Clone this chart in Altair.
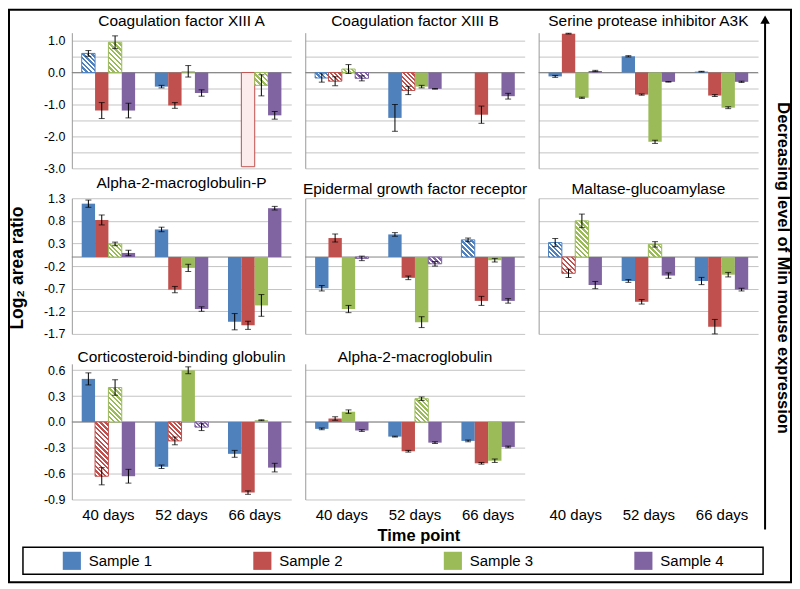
import math
import altair as alt

DAYS = ["40 days", "52 days", "66 days"]
SAMPLES = ["Sample 1", "Sample 2", "Sample 3", "Sample 4"]
COLORS = ["#4F81BD", "#C0504D", "#9BBB59", "#8064A2"]

# values per day: [Sample 1, Sample 2, Sample 3, Sample 4]; pattern s=solid, h=hatched, d=dotted
CF13A_VAL = [[0.60, -1.19, 0.95, -1.19], [-0.44, -1.03, 0.04, -0.64], [None, -2.95, -0.40, -1.34]]
CF13A_ERR = [[0.09, 0.25, 0.20, 0.23], [0.04, 0.09, 0.18, 0.10], [None, None, 0.33, 0.12]]
CF13A_PAT = [["h", "s", "h", "s"], ["s", "s", "s", "s"], ["s", "d", "h", "s"]]

CF13B_VAL = [[-0.17, -0.27, 0.11, -0.18], [-1.42, -0.56, -0.44, -0.51], [None, -1.32, None, -0.74]]
CF13B_ERR = [[0.13, 0.14, 0.14, 0.08], [0.42, 0.13, 0.04, 0.01], [None, 0.27, None, 0.09]]
CF13B_PAT = [["h", "h", "h", "h"], ["s", "h", "s", "s"], ["s", "s", "s", "s"]]

SPI_VAL = [[-0.12, 1.22, -0.79, 0.05], [0.51, -0.69, -2.17, -0.29], [0.03, -0.72, -1.10, -0.29]]
SPI_ERR = [[0.03, 0.01, 0.02, 0.02], [0.02, 0.02, 0.05, 0.01], [0.01, 0.03, 0.03, 0.02]]
SPI_PAT = [["s", "s", "s", "s"], ["s", "s", "s", "s"], ["s", "s", "s", "s"]]

A2MP_VAL = [[1.18, 0.82, 0.29, 0.09], [0.61, -0.72, -0.24, -1.15], [-1.43, -1.51, -1.07, 1.08]]
A2MP_ERR = [[0.08, 0.11, 0.04, 0.06], [0.05, 0.07, 0.08, 0.05], [0.18, 0.09, 0.24, 0.04]]
A2MP_PAT = [["s", "s", "h", "s"], ["s", "s", "s", "s"], ["s", "s", "s", "s"]]

EGFR_VAL = [[-0.69, 0.42, -1.15, -0.03], [0.50, -0.46, -1.44, -0.15], [0.38, -0.97, -0.07, -0.97]]
EGFR_ERR = [[0.06, 0.09, 0.08, 0.05], [0.04, 0.04, 0.12, 0.05], [0.04, 0.10, 0.04, 0.05]]
EGFR_PAT = [["s", "s", "s", "h"], ["s", "s", "s", "h"], ["h", "s", "s", "s"]]

MGAM_VAL = [[0.32, -0.36, 0.80, -0.62], [-0.53, -0.99, 0.28, -0.41], [-0.53, -1.54, -0.39, -0.72]]
MGAM_ERR = [[0.09, 0.09, 0.15, 0.08], [0.03, 0.05, 0.06, 0.06], [0.08, 0.16, 0.05, 0.03]]
MGAM_PAT = [["h", "h", "h", "s"], ["s", "s", "h", "s"], ["s", "s", "s", "s"]]

CBG_VAL = [[0.50, -0.63, 0.40, -0.63], [-0.52, -0.22, 0.60, -0.06], [-0.37, -0.82, 0.02, -0.53]]
CBG_ERR = [[0.07, 0.10, 0.09, 0.08], [0.02, 0.045, 0.04, 0.04], [0.04, 0.02, 0.005, 0.05]]
CBG_PAT = [["s", "h", "h", "s"], ["s", "h", "s", "h"], ["s", "s", "s", "s"]]

A2M_VAL = [[-0.08, 0.04, 0.12, -0.10], [-0.17, -0.34, 0.27, -0.24], [-0.22, -0.48, -0.45, -0.29]]
A2M_ERR = [[0.01, 0.02, 0.02, 0.01], [0.005, 0.01, 0.02, 0.01], [0.01, 0.01, 0.02, 0.01]]
A2M_PAT = [["s", "s", "s", "s"], ["s", "s", "h", "s"], ["s", "s", "s", "s"]]

ROW1_TICKS = [-3.0, -2.5, -2.0, -1.5, -1.0, -0.5, 0.0, 0.5, 1.0]
ROW2_TICKS = [1.3, 0.8, 0.3, -0.2, -0.7, -1.2, -1.7]
ROW3_TICKS = [0.6, 0.3, 0.0, -0.3, -0.6, -0.9]
ROW_DOMAINS = [[-3.0, 1.25], [-1.7, 1.3], [-0.9, 0.675]]

FONT = "Liberation Sans"
W, H = 220, 136
ROW_GAP, COL_GAP = 30, 14
PAD_IN, PAD_OUT = 0.27, 0.135
STEP = W / (3 - PAD_IN + 2 * PAD_OUT)
BAR_W = STEP * (1 - PAD_IN) / 4
GRID = "#c4c4c4"
AXISC = "#9a9a9a"


def hatch(color, w, h, p=3.4):
    n = max(2, round((w + h) / (math.sqrt(2) * p)))
    k = (w + h) / (w * w + h * h)
    stops = []
    for i in range(n):
        a, b, c = i / n, (i + 0.5) / n, (i + 1) / n
        stops += [{"offset": a, "color": color}, {"offset": b, "color": color},
                  {"offset": b, "color": "#ffffff"}, {"offset": c, "color": "#ffffff"}]
    return {"gradient": "linear", "x1": 0, "y1": 1, "x2": k * w, "y2": 1 - k * h, "stops": stops}


def panel(title, vals, errs, pats, row, col, toff):
    dom = ROW_DOMAINS[row]
    ppu = H / (dom[1] - dom[0])
    bars, rules, caps = [], [], []
    for di, day in enumerate(DAYS):
        for si, s in enumerate(SAMPLES):
            v = vals[di][si]
            if v is None:
                continue
            c = COLORS[si]
            pat = pats[di][si]
            if pat == "h":
                fill, stroke = hatch(c, BAR_W, abs(v) * ppu), c
            elif pat == "d":
                fill, stroke = "#fcecec", c
            else:
                fill, stroke = c, "transparent"
            bars.append({"day": day, "sample": s, "v": v, "fill": fill, "stroke": stroke})
            e = errs[di][si]
            if e is not None:
                rules.append({"day": day, "sample": s, "lo": v - e, "hi": v + e})
                caps.append({"day": day, "sample": s, "c": v - e})
                caps.append({"day": day, "sample": s, "c": v + e})
    ticks = [ROW1_TICKS, ROW2_TICKS, ROW3_TICKS][row]
    if row == 0:
        lexpr = "abs(datum.value % 1) < 0.001 ? replace(format(datum.value, '.1f'), '\u2212', '-') : ''"
    else:
        lexpr = "replace(format(datum.value, '.1f'), '\u2212', '-')"
    yscale = alt.Scale(domain=dom, nice=False, zero=False)
    yaxis = alt.Axis(values=ticks, tickCount=30, grid=True, gridColor=GRID, domainColor=AXISC,
                     ticks=False, labels=(col == 0), labelExpr=lexpr, labelPadding=7,
                     labelFontSize=12.5, labelColor="black", labelOverlap=False, title="")
    xscale = alt.Scale(domain=DAYS, paddingInner=PAD_IN, paddingOuter=PAD_OUT)
    if row == 2:
        xaxis = alt.Axis(title="", labelAngle=0, domain=False, ticks=False, labelPadding=8,
                         labelFontSize=15, labelColor="black", grid=False)
    else:
        xaxis = None
    xoff = alt.XOffset("sample:N", scale=alt.Scale(domain=SAMPLES, paddingInner=0, paddingOuter=0))
    X = alt.X("day:N", scale=xscale, axis=xaxis)
    zero = alt.Chart(alt.Data(values=[{"z": 0}])).mark_rule(color="#858585", strokeWidth=1).encode(
        y=alt.Y("z:Q", scale=yscale, axis=yaxis))
    b = alt.Chart(alt.Data(values=bars)).mark_bar(strokeWidth=1).encode(
        x=X, xOffset=xoff, y=alt.Y("v:Q", scale=yscale, title=""),
        fill=alt.Fill("fill:N", scale=None), stroke=alt.Stroke("stroke:N", scale=None))
    r = alt.Chart(alt.Data(values=rules)).mark_rule(color="black", strokeWidth=1).encode(
        x=X, xOffset=xoff, y=alt.Y("lo:Q", scale=yscale, title=""), y2="hi:Q")
    t = alt.Chart(alt.Data(values=caps)).mark_tick(color="black", size=6, thickness=1).encode(
        x=X, xOffset=xoff, y=alt.Y("c:Q", scale=yscale, title=""))
    return alt.layer(zero, b, r, t).properties(
        width=W, height=H,
        title=alt.TitleParams(title, fontSize=15.5, fontWeight="normal", offset=toff, color="black"))


p1 = panel("Coagulation factor XIII A", CF13A_VAL, CF13A_ERR, CF13A_PAT, 0, 0, 3)
p2 = panel("Coagulation factor XIII B", CF13B_VAL, CF13B_ERR, CF13B_PAT, 0, 1, 3)
p3 = panel("Serine protease inhibitor A3K", SPI_VAL, SPI_ERR, SPI_PAT, 0, 2, 3)
p4 = panel("Alpha-2-macroglobulin-P", A2MP_VAL, A2MP_ERR, A2MP_PAT, 1, 0, 1)
p5 = panel("Epidermal growth factor receptor", EGFR_VAL, EGFR_ERR, EGFR_PAT, 1, 1, 1)
p6 = panel("Maltase-glucoamylase", MGAM_VAL, MGAM_ERR, MGAM_PAT, 1, 2, 1)
p7 = panel("Corticosteroid-binding globulin", CBG_VAL, CBG_ERR, CBG_PAT, 2, 0, -2)
p8 = panel("Alpha-2-macroglobulin", A2M_VAL, A2M_ERR, A2M_PAT, 2, 1, -2)

one = alt.Data(values=[{"k": 0}])
# the untitled bottom-right cell carries the frame, arrow and shared titles
# (positions relative to that cell's plot origin)
decor = [
    alt.Chart(one).mark_rect(fill="transparent", stroke="black", strokeWidth=2).encode(
        x=alt.value(-531), x2=alt.value(253), y=alt.value(-355), y2=alt.value(219)),
    alt.Chart(one).mark_rule(color="black", strokeWidth=2).encode(
        x=alt.value(227), y=alt.value(-342), y2=alt.value(166)),
    alt.Chart(one).mark_point(shape="triangle-up", filled=True, color="black", size=90, opacity=1).encode(
        x=alt.value(227), y=alt.value(-345)),
    alt.Chart(one).mark_text(text="Decreasing level of Min mouse expression", angle=90, fontSize=16.5,
                             fontWeight="bold", color="black", align="center", baseline="middle").encode(
        x=alt.value(245), y=alt.value(-96)),
    alt.Chart(one).mark_text(text="Log\u2082 area ratio", angle=270, fontSize=17.5,
                             fontWeight="bold", color="black", align="center", baseline="middle").encode(
        x=alt.value(-522), y=alt.value(-96)),
    alt.Chart(one).mark_text(text="Time point", fontSize=16.5, fontWeight="bold", color="black",
                             align="center", baseline="middle").encode(
        x=alt.value(-120), y=alt.value(173)),
]
empty_x = alt.Chart(alt.Data(values=[{"day": d} for d in DAYS])).mark_point(opacity=0).encode(
    x=alt.X("day:N", scale=alt.Scale(domain=DAYS, paddingInner=PAD_IN, paddingOuter=PAD_OUT),
            axis=alt.Axis(title="", labelAngle=0, domain=False, ticks=False, labelPadding=8,
                          labelFontSize=15, labelColor="black", grid=False)))
empty = alt.layer(empty_x, *decor).properties(width=W, height=H)

# legend cell (row 4, column 1); its box spans the full figure width
LEG_TOP = 18
leg_data = alt.Data(values=[{"sample": s} for s in SAMPLES])
lx = alt.X("sample:N", scale=alt.Scale(domain=SAMPLES, type="point", padding=0, range=[0, 573]), axis=None)
lcol = alt.Color("sample:N", scale=alt.Scale(domain=SAMPLES, range=COLORS), legend=None)
legend = alt.layer(
    alt.Chart(one).mark_rect(fill="transparent", stroke="black", strokeWidth=1.5).encode(
        x=alt.value(-49), x2=alt.value(693), y=alt.value(LEG_TOP), y2=alt.value(LEG_TOP + 27)),
    alt.Chart(leg_data).mark_square(size=330, opacity=1).encode(
        x=lx, y=alt.value(LEG_TOP + 13.5), color=lcol),
    alt.Chart(leg_data).mark_text(align="left", dx=17, fontSize=15, color="black", baseline="middle").encode(
        x=lx, y=alt.value(LEG_TOP + 13.5), text="sample:N"),
).properties(width=W, height=LEG_TOP + 27)

chart = alt.concat(p1, p2, p3, p4, p5, p6, p7, p8, empty, legend, columns=3, bounds="flush",
                   spacing=alt.RowColnumber(row=ROW_GAP, column=COL_GAP)).properties(
    padding=0).configure(font=FONT).configure_view(strokeWidth=0)

chart.save("out.html", embed_options={"renderer": "svg", "actions": False})
